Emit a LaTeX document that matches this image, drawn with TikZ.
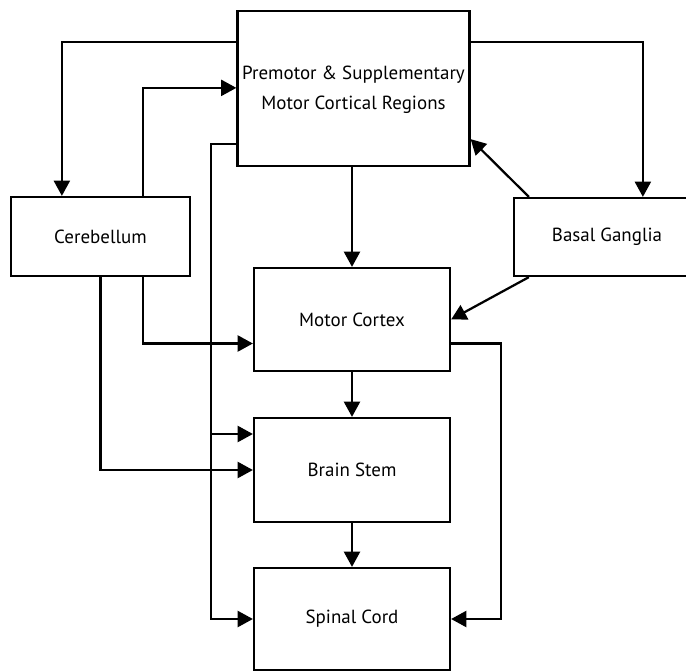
\documentclass[tikz,border=0pt]{standalone}
\usepackage{fontspec}
\setmainfont{PT Sans}
\usetikzlibrary{arrows.meta}

\begin{document}
\begin{tikzpicture}[
    box/.style={draw, line width=1.6pt, align=center, font=\fontsize{13.5}{21}\selectfont},
    arr/.style={line width=1.6pt, -{Triangle[length=0.38cm, width=0.4cm]}}
  ]
  \clip (0,0) rectangle (17.15,-16.775);

  % Boxes
  \node[box, minimum width=5.775cm, minimum height=3.875cm] (pre) at (8.8375,-2.2125)
    {\raisebox{-0.22cm}{\begin{tabular}{@{}c@{}}Premotor \& Supplementary\\Motor Cortical Regions\end{tabular}}};
  \node[box, minimum width=4.475cm, minimum height=1.975cm] (cer) at (2.5125,-5.9125) {Cerebellum};
  \node[box, minimum width=4.65cm, minimum height=1.95cm] (bas) at (15.175,-5.925) {Basal Ganglia};
  \node[box, minimum width=4.9cm, minimum height=2.575cm] (mot) at (8.8,-7.9875) {Motor Cortex};
  \node[box, minimum width=4.9cm, minimum height=2.6cm] (bst) at (8.8,-11.75) {Brain Stem};
  \node[box, minimum width=4.9cm, minimum height=2.55cm] (spc) at (8.8,-15.475) {Spinal Cord};

  % Premotor <-> Cerebellum
  \draw[arr] ([yshift=-0.8cm]pre.north west) -| ([xshift=1.3cm]cer.north west);
  \draw[arr] ([xshift=-1.2cm]cer.north east) |- ([yshift=-1.95cm]pre.north west);

  % Premotor <-> Basal Ganglia
  \draw[arr] ([yshift=-0.8cm]pre.north east) -| ([xshift=3.25cm]bas.north west);
  \draw[arr] ([xshift=0.4cm]bas.north west) -- ([yshift=0.7cm]pre.south east);

  % Basal Ganglia to Motor Cortex
  \draw[arr] ([xshift=0.4cm]bas.south west) -- (mot.east);

  % Cerebellum down to Motor Cortex and Brain Stem
  \draw[arr] ([xshift=-1.2cm]cer.south east) |- ([yshift=-0.6cm]mot.west);
  \draw[arr] (cer.south) |- (bst.west);

  % Premotor down the left side
  \coordinate (trunk) at ([xshift=-0.625cm, yshift=0.575cm]pre.south west);
  \path ([yshift=0.9cm]bst.west) coordinate (bstin);
  \draw[arr] ([yshift=0.575cm]pre.south west) -- (trunk) |- (spc.west);
  \draw[arr] (trunk |- bstin) -- (bstin);

  % Middle column
  \draw[arr] (pre.south -| mot.north) -- (mot.north);
  \draw[arr] (mot.south) -- (bst.north);
  \draw[arr] (bst.south) -- (spc.north);

  % Motor Cortex to Spinal Cord
  \draw[arr] ([yshift=-0.6cm]mot.east) -- ++(1.25,0) |- (spc.east);
\end{tikzpicture}
\end{document}
